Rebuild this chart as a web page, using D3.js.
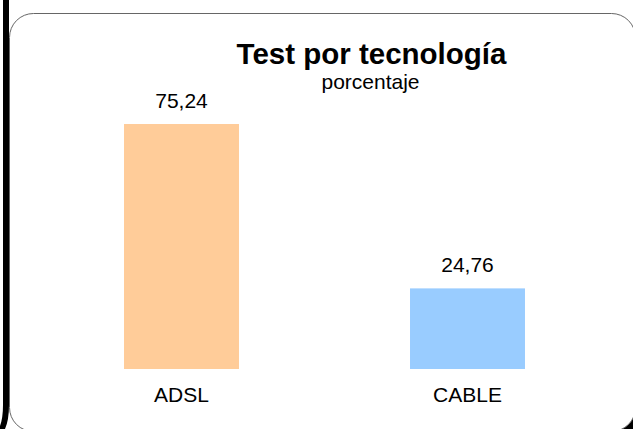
<!DOCTYPE html>
<html>
<head>
<meta charset="utf-8">
<script src="https://cdn.jsdelivr.net/npm/d3@7/dist/d3.min.js"></script>
<style>
  html, body { margin: 0; padding: 0; background: #fff; }
  svg { display: block; }
  text { font-family: "Liberation Sans", Arial, sans-serif; fill: #000; }
</style>
</head>
<body>
<svg id="chart" width="633" height="429"></svg>
<script>
const categories = ["ADSL", "CABLE"];
const values = [75.24, 24.76];
const colors = ["#FFCC99", "#99CCFF"];
const title = "Test por tecnología";
const subtitle = "porcentaje";

const svg = d3.select("#chart");

// dark edge of the frame
svg.append("rect")
  .attr("x", 615).attr("y", 410).attr("width", 18).attr("height", 19)
  .attr("fill", "#000");

// rounded frame
svg.append("rect")
  .attr("x", 9.5).attr("y", 13.5)
  .attr("width", 626).attr("height", 418)
  .attr("rx", 24).attr("ry", 24)
  .attr("fill", "#fff")
  .attr("stroke", "#666")
  .attr("stroke-width", 1);

svg.append("path")
  .attr("d", "M3,0 L9,0 L9,405 Q9,420 5,429 L0,429 L0,426 Q3,418 3,405 Z")
  .attr("fill", "#000");

const x = d3.scaleBand()
  .domain(categories)
  .range([38.5, 610.5])
  .paddingInner(0.598)
  .paddingOuter(0.299);

const y = d3.scaleLinear()
  .domain([0, 100])
  .range([369, 43.4]);

const locale = d3.formatLocale({ decimal: ",", thousands: ".", grouping: [3], currency: ["", "€"] });
const fmt = locale.format(".2f");

const data = categories.map((c, i) => ({ c, v: values[i], col: colors[i] }));

svg.selectAll("rect.bar")
  .data(data)
  .join("rect")
  .attr("class", "bar")
  .attr("x", d => x(d.c))
  .attr("y", d => y(d.v))
  .attr("width", x.bandwidth())
  .attr("height", d => y(0) - y(d.v))
  .attr("fill", d => d.col);

svg.selectAll("text.val")
  .data(data)
  .join("text")
  .attr("class", "val")
  .attr("x", d => x(d.c) + x.bandwidth() / 2)
  .attr("y", d => y(d.v) - 16.5)
  .attr("text-anchor", "middle")
  .style("font-size", "21px")
  .text(d => fmt(d.v));

// category axis labels
const xAxis = d3.axisBottom(x).tickSize(0).tickPadding(0);
const gx = svg.append("g")
  .attr("transform", `translate(0, ${y(0)})`)
  .call(xAxis);
gx.select(".domain").remove();
gx.selectAll("text")
  .attr("dy", null)
  .attr("y", 33)
  .style("font-size", "21px")
  .style("font-family", '"Liberation Sans", Arial, sans-serif')
  .attr("fill", "#000");

svg.append("text")
  .attr("x", 371.5).attr("y", 63.5)
  .attr("text-anchor", "middle")
  .style("font-size", "29.5px")
  .style("font-weight", "bold")
  .text(title);

svg.append("text")
  .attr("x", 370.5).attr("y", 89)
  .attr("text-anchor", "middle")
  .style("font-size", "21px")
  .text(subtitle);
</script>
</body>
</html>
